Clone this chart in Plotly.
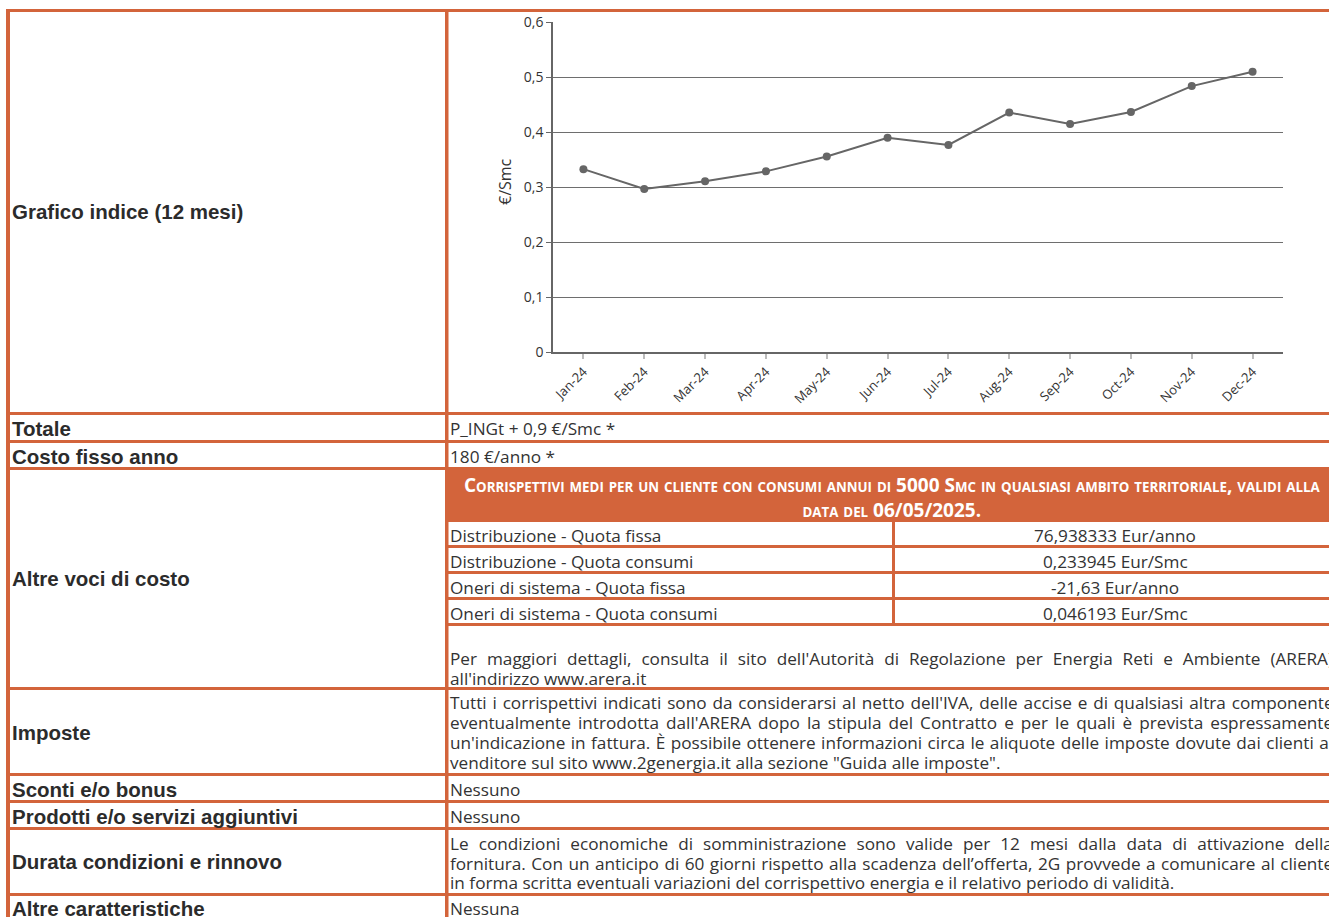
import glob
import struct
import plotly.graph_objects as go

# ---------------- data ----------------
months = ["Jan-24", "Feb-24", "Mar-24", "Apr-24", "May-24", "Jun-24",
          "Jul-24", "Aug-24", "Sep-24", "Oct-24", "Nov-24", "Dec-24"]
index_values = [0.333, 0.297, 0.311, 0.329, 0.356, 0.390,
                0.377, 0.436, 0.415, 0.437, 0.484, 0.510]
y_tick_values = [0, 0.1, 0.2, 0.3, 0.4, 0.5, 0.6]
y_axis_title = "€/Smc"

row_labels = ["Grafico indice (12 mesi)", "Totale", "Costo fisso anno",
              "Altre voci di costo", "Imposte", "Sconti e/o bonus",
              "Prodotti e/o servizi aggiuntivi", "Durata condizioni e rinnovo",
              "Altre caratteristiche"]
totale_text = "P_INGt + 0,9 €/Smc *"
costo_fisso_text = "180 €/anno *"
header_line1 = "Corrispettivi medi per un cliente con consumi annui di 5000 Smc in qualsiasi ambito territoriale, validi alla"
header_line2 = "data del 06/05/2025."
cost_items = ["Distribuzione - Quota fissa", "Distribuzione - Quota consumi",
              "Oneri di sistema - Quota fissa", "Oneri di sistema - Quota consumi"]
cost_values = ["76,938333 Eur/anno", "0,233945 Eur/Smc", "-21,63 Eur/anno", "0,046193 Eur/Smc"]
arera_lines = ["Per maggiori dettagli, consulta il sito dell'Autorità di Regolazione per Energia Reti e Ambiente (ARERA)",
               "all'indirizzo www.arera.it"]
imposte_lines = ["Tutti i corrispettivi indicati sono da considerarsi al netto dell'IVA, delle accise e di qualsiasi altra componente",
                 "eventualmente introdotta dall'ARERA dopo la stipula del Contratto e per le quali è prevista espressamente",
                 "un'indicazione in fattura. È possibile ottenere informazioni circa le aliquote delle imposte dovute dai clienti al",
                 "venditore sul sito www.2genergia.it alla sezione \"Guida alle imposte\"."]
sconti_text = "Nessuno"
prodotti_text = "Nessuno"
durata_lines = ["Le condizioni economiche di somministrazione sono valide per 12 mesi dalla data di attivazione della",
                "fornitura. Con un anticipo di 60 giorni rispetto alla scadenza dell’offerta, 2G provvede a comunicare al cliente",
                "in forma scritta eventuali variazioni del corrispettivo energia e il relativo periodo di validità."]
altre_text = "Nessuna"

# ---------------- style ----------------
W, H = 1329, 917
ORANGE = "#D3643B"
TXT = "#333333"
BODY_FONT = "Open Sans"
LABEL_FONT = "Liberation Sans"
TEXT_LEFT = 450          # left edge of right-column text glyphs
ANN_PAD = 2.5            # plotly annotation inner padding
TEXT_RIGHT = 1334        # right edge of the (cropped) right column
LINE_SPACING = 1.3       # plotly's multi-line spacing factor (em)


# ---------- font metrics (for justified paragraphs) ----------
def load_advances(patterns):
    for pat in patterns:
        for path in sorted(glob.glob(pat, recursive=True)):
            try:
                data = open(path, "rb").read()
                if data[:4] == b"ttcf":
                    continue
                ntab = struct.unpack(">H", data[4:6])[0]
                tabs = {}
                for i in range(ntab):
                    tag, _, off, ln = struct.unpack(">4sIII", data[12 + 16 * i:28 + 16 * i])
                    tabs[tag.decode("latin1")] = off
                upem = struct.unpack(">H", data[tabs["head"] + 18:tabs["head"] + 20])[0]
                nhm = struct.unpack(">H", data[tabs["hhea"] + 34:tabs["hhea"] + 36])[0]
                hm = tabs["hmtx"]
                adv = [struct.unpack(">H", data[hm + 4 * i:hm + 4 * i + 2])[0] for i in range(nhm)]
                cm = tabs["cmap"]
                nsub = struct.unpack(">H", data[cm + 2:cm + 4])[0]
                cmap = {}
                for i in range(nsub):
                    pid, eid, off = struct.unpack(">HHI", data[cm + 4 + 8 * i:cm + 12 + 8 * i])
                    sub = cm + off
                    fmt = struct.unpack(">H", data[sub:sub + 2])[0]
                    if fmt != 4:
                        continue
                    segx2 = struct.unpack(">H", data[sub + 6:sub + 8])[0]
                    ends = sub + 14
                    starts = ends + segx2 + 2
                    deltas = starts + segx2
                    ranges = deltas + segx2
                    for s in range(segx2 // 2):
                        end = struct.unpack(">H", data[ends + 2 * s:ends + 2 * s + 2])[0]
                        start = struct.unpack(">H", data[starts + 2 * s:starts + 2 * s + 2])[0]
                        delta = struct.unpack(">h", data[deltas + 2 * s:deltas + 2 * s + 2])[0]
                        ro = struct.unpack(">H", data[ranges + 2 * s:ranges + 2 * s + 2])[0]
                        for c in range(start, min(end, 0x2200) + 1):
                            if ro == 0:
                                g = (c + delta) & 0xFFFF
                            else:
                                a = ranges + 2 * s + ro + 2 * (c - start)
                                g = struct.unpack(">H", data[a:a + 2])[0]
                                if g:
                                    g = (g + delta) & 0xFFFF
                            cmap[c] = g
                    break
                if cmap:
                    return adv, cmap, upem
            except Exception:
                continue
    return None


METRICS = load_advances(["/usr/share/fonts/**/OpenSans-Regular.ttf",
                         "/usr/share/fonts/**/OpenSans[[]*.ttf",
                         "/usr/share/fonts/**/OpenSans*.ttf",
                         "/usr/local/share/fonts/**/OpenSans*.ttf"])


def text_width(s, size):
    if METRICS is None:
        return None
    adv, cmap, upem = METRICS
    tot = 0
    for ch in s:
        g = cmap.get(ord(ch), 0)
        tot += adv[min(g, len(adv) - 1)]
    return tot * size / upem


# body size fitted to the unjustified reference line width (551 px)
_w = text_width(imposte_lines[3], 1.0)
BODY_SIZE = 16.0 if not _w else max(14.0, min(18.0, round(551 / _w, 1)))


def line_markup(s, justified):
    style = "font-size:%.1fpx" % BODY_SIZE
    if justified:
        w = text_width(s, BODY_SIZE)
        nsp = s.count(" ")
        if w and nsp:
            extra = (TEXT_RIGHT - TEXT_LEFT - w) / nsp
            if extra > 0:
                style += ";word-spacing:%.2fpx" % extra
    return "<span style='%s'>%s</span>" % (style, s)


def paragraph(lines):
    # justified paragraph: every line but the last is stretched to the cell width
    return "<br>".join(line_markup(l, i < len(lines) - 1) for i, l in enumerate(lines))


def X(px):
    return px / W


def Y(py):
    return 1 - py / H


fig = go.Figure()
fig.add_trace(go.Scatter(
    x=months, y=index_values, mode="lines+markers",
    line=dict(color="#666666", width=2),
    marker=dict(size=8, color="#666666"),
    hoverinfo="x+y", showlegend=False))

shapes = []


def rect(x0, x1, y0, y1, color=ORANGE):
    shapes.append(dict(type="rect", xref="paper", yref="paper",
                       x0=X(x0), x1=X(x1), y0=Y(y1), y1=Y(y0),
                       fillcolor=color, line=dict(width=0), layer="above"))


# header orange box
rect(448, W + 2, 469, 522)
# horizontal borders (full width)
for y0 in [9, 412, 440, 467, 687, 773, 800, 827, 893]:
    rect(6, W + 2, y0, y0 + 3)
# sub-table horizontal borders
for y0 in [545, 571, 597, 623]:
    rect(448, W + 2, y0, y0 + 3)
# vertical borders
rect(6, 10, 9, H + 2)
rect(445, 448.5, 9, H + 2)
rect(892, 895, 522, 626)

annotations = []


def text(x, y, s, size=None, family=BODY_FONT, color=TXT, anchor="left", bold=False, align="left"):
    size = size or BODY_SIZE
    if bold:
        s = "<b>" + s + "</b>"
    if anchor == "left":
        x = x - ANN_PAD
    annotations.append(dict(xref="paper", yref="paper", x=X(x), y=Y(y), text=s,
                            xanchor=anchor, yanchor="middle", showarrow=False, align=align,
                            font=dict(family=family, size=size, color=color)))


def para(y_first, y_last, lines):
    # paragraph whose baseline pitch matches the reference line pitch
    pitch = (y_last - y_first) / (len(lines) - 1)
    text(TEXT_LEFT, (y_first + y_last) / 2, paragraph(lines), size=pitch / LINE_SPACING)


# left labels
label_y = [211, 428, 456, 578, 732, 789, 816, 861, 908]
for lab, yy in zip(row_labels, label_y):
    text(12, yy, lab, size=20.5, family=LABEL_FONT, color="#2b2b2b", bold=True)

text(TEXT_LEFT, 428, totale_text)
text(TEXT_LEFT, 456, costo_fisso_text)


def smallcaps(s, small=12):
    out = []
    buf = ""
    for ch in s:
        if ch.islower():
            buf += ch.upper()
        else:
            if buf:
                out.append("<span style='font-size:%.1fpx'>%s</span>" % (small, buf))
                buf = ""
            out.append(ch)
    if buf:
        out.append("<span style='font-size:%.1fpx'>%s</span>" % (small, buf))
    return "".join(out)


text(892, 497.5, smallcaps(header_line1, 13.3) + "<br>" + smallcaps(header_line2, 13.3),
     size=19, color="white", anchor="center", bold=True, align="center")

for item, val, yy in zip(cost_items, cost_values, [535, 561, 587, 613]):
    text(TEXT_LEFT, yy, item)
    text(1115, yy, val, anchor="center")

para(658, 678, arera_lines)
para(702, 762, imposte_lines)
text(TEXT_LEFT, 789, sconti_text)
text(TEXT_LEFT, 816, prodotti_text)
para(843, 882, durata_lines)
text(TEXT_LEFT, 908, altre_text)

# y-axis title
annotations.append(dict(xref="paper", yref="paper", x=X(505), y=Y(182), text=y_axis_title,
                        textangle=-90, xanchor="center", yanchor="middle", showarrow=False,
                        font=dict(family=BODY_FONT, size=16, color=TXT)))

fig.update_layout(
    width=W, height=H, margin=dict(l=0, r=0, t=0, b=0, autoexpand=False),
    paper_bgcolor="white", plot_bgcolor="white",
    separators=",.",
    shapes=shapes, annotations=annotations, showlegend=False,
    xaxis=dict(type="category", domain=[X(553), X(1283)], range=[-0.5, 11.5],
               automargin=False,
               showline=True, linecolor="#666666", linewidth=1.5,
               ticks="outside", ticklen=5, tickcolor="#bbbbbb", tickwidth=1.5,
               tickangle=-45, showgrid=False, zeroline=False,
               tickfont=dict(family=BODY_FONT, size=13, color=TXT)),
    yaxis=dict(domain=[Y(352.3), Y(22.3)], range=[0, 0.6], tickvals=y_tick_values,
               automargin=False,
               showline=True, linecolor="#666666", linewidth=1.5,
               ticks="outside", ticklen=5, tickcolor="#666666",
               showgrid=True, gridcolor="#6e6e6e", gridwidth=1.3, zeroline=False,
               tickfont=dict(family=BODY_FONT, size=14, color=TXT)),
)

fig.write_html("out.html", config={"displayModeBar": False},
               post_script="document.body.style.margin='0';")
